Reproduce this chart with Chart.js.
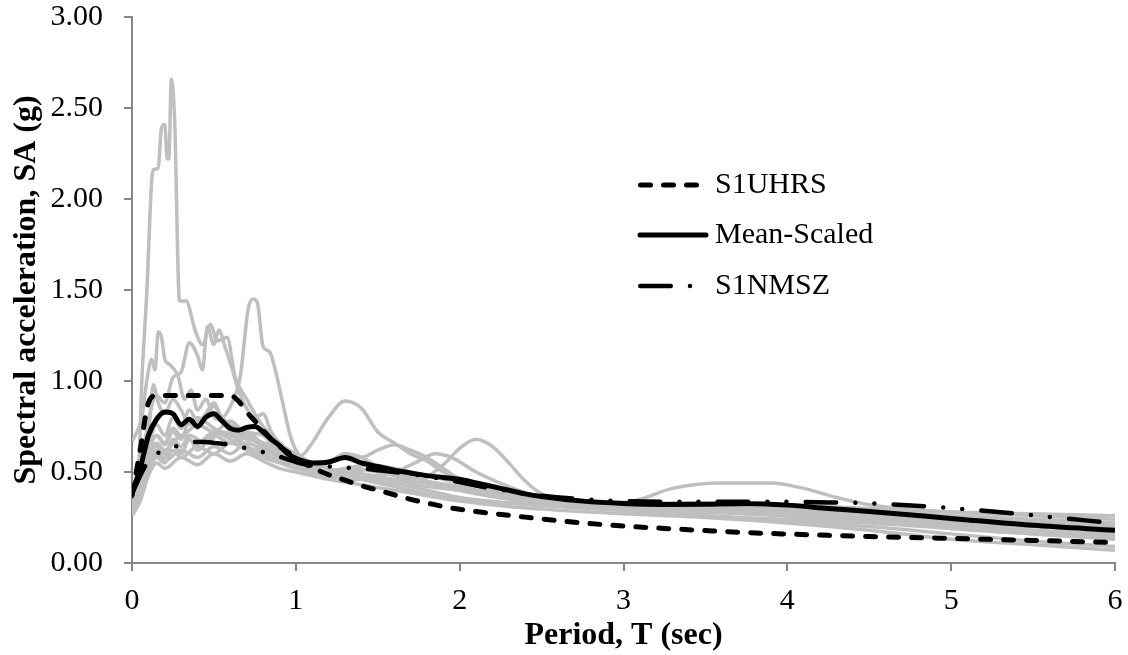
<!DOCTYPE html>
<html>
<head>
<meta charset="utf-8">
<title>Spectral acceleration</title>
<script src="https://cdn.jsdelivr.net/npm/chart.js@4.4.0/dist/chart.umd.min.js"></script>
<style>
  html, body { margin: 0; padding: 0; background: #fff; }
  #espectro { display: block; }
</style>
</head>
<body>
<canvas id="espectro" width="1128" height="655"></canvas>
<script>
// periodos (s) para los espectros objetivo
const periods = [0, 0.05, 0.1, 0.15, 0.2, 0.25, 0.3, 0.35, 0.4, 0.45, 0.5, 0.55, 0.6, 0.65, 0.7, 0.75, 0.8, 0.85, 0.9, 0.95,
  1.0, 1.1, 1.2, 1.3, 1.4, 1.5, 1.6, 1.7, 1.8, 1.9, 2.0, 2.1, 2.2, 2.3, 2.4, 2.5,
  2.75, 3.0, 3.25, 3.5, 3.75, 4.0, 4.25, 4.5, 5.0, 5.5, 6.0];

const s1uhrs = [0.37, 0.62, 0.88, 0.92, 0.92, 0.92, 0.92, 0.92, 0.92, 0.92, 0.92, 0.92, 0.92, 0.89, 0.83, 0.78, 0.73, 0.68, 0.64, 0.61,
  0.575, 0.525, 0.485, 0.455, 0.425, 0.40, 0.375, 0.35, 0.33, 0.31, 0.295, 0.283, 0.272, 0.262, 0.252, 0.242,
  0.22, 0.203, 0.19, 0.178, 0.167, 0.159, 0.152, 0.145, 0.135, 0.124, 0.113];

const meanScaled = [0.39, 0.52, 0.70, 0.79, 0.83, 0.82, 0.76, 0.79, 0.75, 0.80, 0.82, 0.78, 0.74, 0.73, 0.745, 0.75, 0.72, 0.68, 0.645, 0.60,
  0.575, 0.55, 0.555, 0.58, 0.55, 0.53, 0.51, 0.495, 0.48, 0.47, 0.46, 0.44, 0.42, 0.40, 0.38, 0.365,
  0.34, 0.327, 0.322, 0.323, 0.326, 0.318, 0.30, 0.283, 0.245, 0.207, 0.18];

const s1nmsz = [0.38, 0.48, 0.56, 0.60, 0.62, 0.635, 0.65, 0.66, 0.665, 0.665, 0.66, 0.655, 0.65, 0.64, 0.63, 0.62, 0.61, 0.60, 0.585, 0.57,
  0.555, 0.535, 0.53, 0.525, 0.52, 0.51, 0.50, 0.49, 0.475, 0.46, 0.445, 0.425, 0.41, 0.395, 0.38, 0.37,
  0.35, 0.34, 0.337, 0.337, 0.337, 0.336, 0.333, 0.328, 0.302, 0.262, 0.218];

// registros escalados [T, SA]
const rec01 = [[0,0.30],[0.04,0.5],[0.06,1.0],[0.09,1.48],[0.12,2.10],[0.13,2.16],[0.16,2.17],[0.18,2.39],[0.20,2.41],[0.215,2.22],[0.225,2.22],[0.24,2.66],[0.26,2.44],[0.29,1.44],[0.33,1.44],[0.385,1.28],[0.43,1.20],[0.48,1.31],[0.52,1.22],[0.58,1.24],[0.63,1.02],[0.7,0.90],[0.8,0.75],[0.9,0.66],[1.0,0.58],[1.1,0.52],[1.2,0.50],[1.4,0.47],[1.6,0.45],[1.8,0.42],[2.0,0.40],[2.3,0.37],[2.6,0.33],[3.0,0.29],[3.5,0.26],[4.0,0.24],[4.5,0.22],[5.0,0.19],[5.5,0.16],[6.0,0.14]];
const rec02 = [[0,0.28],[0.05,0.45],[0.1,0.62],[0.15,0.70],[0.2,0.65],[0.25,0.72],[0.3,0.68],[0.35,0.78],[0.4,0.74],[0.45,0.82],[0.5,0.88],[0.55,0.80],[0.6,0.86],[0.66,1.02],[0.71,1.40],[0.74,1.45],[0.765,1.43],[0.80,1.19],[0.84,1.16],[0.88,1.04],[0.92,0.88],[0.96,0.72],[1.0,0.62],[1.1,0.52],[1.2,0.47],[1.3,0.45],[1.45,0.47],[1.6,0.44],[1.8,0.40],[2.0,0.36],[2.3,0.33],[2.6,0.31],[3.0,0.29],[3.5,0.28],[4.0,0.27],[4.5,0.25],[5.0,0.22],[5.5,0.20],[6.0,0.18]];
const rec03 = [[0,0.67],[0.03,0.72],[0.06,0.80],[0.09,1.00],[0.12,1.12],[0.14,1.06],[0.16,1.27],[0.18,1.24],[0.20,1.12],[0.23,1.09],[0.28,1.03],[0.32,0.90],[0.36,0.95],[0.4,0.84],[0.45,0.90],[0.5,0.80],[0.55,0.78],[0.6,0.72],[0.7,0.70],[0.8,0.66],[0.9,0.62],[1.0,0.56],[1.1,0.52],[1.2,0.55],[1.3,0.60],[1.4,0.58],[1.5,0.53],[1.7,0.48],[1.9,0.42],[2.1,0.38],[2.3,0.35],[2.5,0.33],[3.0,0.30],[3.5,0.28],[4.0,0.26],[4.5,0.23],[5.0,0.20],[5.5,0.17],[6.0,0.15]];
const rec04 = [[0,0.32],[0.05,0.50],[0.1,0.78],[0.15,0.92],[0.2,0.88],[0.25,1.02],[0.3,1.05],[0.35,1.21],[0.4,1.14],[0.43,1.06],[0.46,1.30],[0.5,1.20],[0.53,1.28],[0.57,1.18],[0.6,1.10],[0.65,0.95],[0.7,0.85],[0.75,0.80],[0.8,0.82],[0.85,0.72],[0.9,0.66],[1.0,0.60],[1.1,0.55],[1.2,0.52],[1.3,0.50],[1.4,0.51],[1.5,0.52],[1.6,0.50],[1.8,0.45],[2.0,0.42],[2.2,0.38],[2.5,0.34],[3.0,0.30],[3.5,0.30],[4.0,0.30],[4.5,0.28],[5.0,0.26],[5.5,0.24],[6.0,0.22]];
const rec05 = [[0,0.30],[0.05,0.40],[0.1,0.55],[0.15,0.62],[0.2,0.58],[0.25,0.66],[0.3,0.60],[0.35,0.68],[0.4,0.62],[0.5,0.70],[0.6,0.66],[0.7,0.72],[0.8,0.65],[0.9,0.60],[1.0,0.58],[1.05,0.60],[1.1,0.66],[1.2,0.80],[1.3,0.89],[1.4,0.85],[1.5,0.72],[1.6,0.66],[1.7,0.60],[1.8,0.56],[1.9,0.50],[2.0,0.46],[2.2,0.40],[2.5,0.35],[3.0,0.31],[3.5,0.29],[4.0,0.27],[4.5,0.24],[5.0,0.21],[5.5,0.18],[6.0,0.16]];
const rec06 = [[0,0.28],[0.05,0.38],[0.1,0.50],[0.15,0.58],[0.2,0.55],[0.25,0.62],[0.3,0.58],[0.4,0.64],[0.5,0.60],[0.6,0.66],[0.7,0.62],[0.8,0.58],[0.9,0.55],[1.0,0.52],[1.2,0.48],[1.4,0.46],[1.6,0.44],[1.75,0.45],[1.9,0.54],[2.0,0.63],[2.1,0.68],[2.2,0.64],[2.3,0.55],[2.4,0.45],[2.5,0.38],[2.75,0.33],[3.0,0.31],[3.5,0.30],[4.0,0.29],[4.5,0.26],[5.0,0.23],[5.5,0.20],[6.0,0.18]];
const rec07 = [[0,0.33],[0.05,0.45],[0.1,0.60],[0.15,0.66],[0.2,0.62],[0.3,0.70],[0.4,0.66],[0.5,0.72],[0.6,0.68],[0.7,0.64],[0.8,0.60],[0.9,0.56],[1.0,0.54],[1.2,0.50],[1.4,0.46],[1.6,0.42],[1.8,0.38],[2.0,0.35],[2.3,0.33],[2.6,0.32],[2.9,0.31],[3.1,0.35],[3.3,0.41],[3.6,0.44],[3.9,0.44],[4.1,0.41],[4.3,0.36],[4.5,0.32],[5.0,0.28],[5.5,0.26],[6.0,0.24]];
const rec08 = [[0,0.27],[0.05,0.36],[0.1,0.52],[0.15,0.60],[0.2,0.56],[0.3,0.62],[0.4,0.58],[0.5,0.64],[0.6,0.60],[0.7,0.66],[0.8,0.62],[0.9,0.58],[1.0,0.55],[1.1,0.53],[1.2,0.55],[1.3,0.60],[1.4,0.58],[1.5,0.62],[1.6,0.65],[1.7,0.62],[1.8,0.58],[1.9,0.52],[2.0,0.46],[2.2,0.40],[2.4,0.36],[2.7,0.33],[3.0,0.30],[3.5,0.28],[4.0,0.26],[4.5,0.23],[5.0,0.19],[5.5,0.16],[6.0,0.13]];
const rec09 = [[0,0.35],[0.05,0.48],[0.1,0.62],[0.15,0.70],[0.2,0.66],[0.25,0.74],[0.3,0.70],[0.4,0.76],[0.5,0.72],[0.6,0.78],[0.7,0.70],[0.8,0.64],[0.9,0.58],[1.0,0.54],[1.1,0.50],[1.2,0.48],[1.4,0.47],[1.6,0.50],[1.75,0.56],[1.85,0.60],[1.95,0.58],[2.1,0.50],[2.3,0.42],[2.5,0.36],[2.75,0.32],[3.0,0.29],[3.5,0.26],[4.0,0.23],[4.5,0.20],[5.0,0.16],[5.5,0.12],[6.0,0.09]];
const rec10 = [[0,0.26],[0.05,0.34],[0.1,0.48],[0.15,0.55],[0.2,0.52],[0.3,0.58],[0.4,0.54],[0.5,0.60],[0.6,0.56],[0.7,0.60],[0.8,0.56],[0.9,0.52],[1.0,0.50],[1.2,0.46],[1.4,0.43],[1.6,0.40],[1.8,0.37],[2.0,0.34],[2.3,0.31],[2.6,0.29],[3.0,0.27],[3.5,0.25],[4.0,0.22],[4.5,0.18],[5.0,0.13],[5.5,0.10],[6.0,0.07]];
const rec11 = [[0,0.29],[0.05,0.42],[0.1,0.58],[0.15,0.64],[0.2,0.60],[0.25,0.68],[0.3,0.64],[0.35,0.70],[0.45,0.66],[0.55,0.72],[0.65,0.68],[0.75,0.62],[0.85,0.66],[0.95,0.58],[1.05,0.52],[1.15,0.50],[1.3,0.52],[1.45,0.54],[1.6,0.52],[1.8,0.48],[2.0,0.44],[2.25,0.40],[2.5,0.37],[2.8,0.34],[3.2,0.33],[3.6,0.33],[4.0,0.32],[4.5,0.30],[5.0,0.28],[5.5,0.27],[6.0,0.26]];
const rec12 = [[0,0.31],[0.05,0.44],[0.1,0.64],[0.15,0.76],[0.2,0.70],[0.25,0.80],[0.3,0.74],[0.35,0.84],[0.4,0.78],[0.5,0.86],[0.55,0.80],[0.6,0.76],[0.7,0.72],[0.8,0.70],[0.9,0.62],[1.0,0.57],[1.1,0.53],[1.2,0.50],[1.4,0.49],[1.6,0.46],[1.8,0.44],[2.0,0.41],[2.3,0.36],[2.6,0.33],[3.0,0.31],[3.5,0.30],[4.0,0.29],[4.5,0.27],[5.0,0.25],[5.5,0.23],[6.0,0.21]];
const rec13 = [[0,0.34],[0.05,0.52],[0.1,0.70],[0.13,0.98],[0.16,0.88],[0.2,0.82],[0.25,0.90],[0.3,0.84],[0.35,0.76],[0.4,0.80],[0.5,0.74],[0.6,0.70],[0.7,0.68],[0.8,0.66],[0.9,0.62],[1.0,0.55],[1.1,0.51],[1.2,0.50],[1.35,0.52],[1.5,0.50],[1.7,0.46],[1.9,0.43],[2.1,0.40],[2.4,0.36],[2.7,0.33],[3.0,0.31],[3.5,0.30],[4.0,0.28],[4.5,0.26],[5.0,0.24],[5.5,0.22],[6.0,0.20]];

const registros = [rec01, rec02, rec03, rec04, rec05, rec06, rec07, rec08, rec09, rec10, rec11, rec12, rec13];

const yTicks = [0, 0.5, 1.0, 1.5, 2.0, 2.5, 3.0];
const xTicks = [0, 1, 2, 3, 4, 5, 6];

// patrones de linea
const dashUHRS = [10, 13];
const dashNMSZ = [30.5, 19.25, 0, 19, 0, 19.25];

const fuente = "'Liberation Serif', 'Times New Roman', serif";
const gris = '#868686';

function comoPuntos(xs, ys) {
    return xs.map((t, i) => ({ x: t, y: ys[i] }));
}

let datasets = [
    {
        label: 'S1UHRS',
        data: comoPuntos(periods, s1uhrs),
        borderColor: '#000',
        borderWidth: 5,
        borderDash: dashUHRS,
        borderCapStyle: 'round'
    },
    {
        label: 'Mean-Scaled',
        data: comoPuntos(periods, meanScaled),
        borderColor: '#000',
        borderWidth: 5,
        borderJoinStyle: 'round'
    },
    {
        label: 'S1NMSZ',
        data: comoPuntos(periods, s1nmsz),
        borderColor: '#000',
        borderWidth: 4.5,
        borderDash: dashNMSZ,
        borderCapStyle: 'round'
    }
];

for (let r of registros) {
    datasets.push({
        label: '',
        data: r.map(p => ({ x: p[0], y: p[1] })),
        borderColor: '#BFBFBF',
        borderWidth: 3.5,
        borderJoinStyle: 'round'
    });
}

// leyenda dibujada dentro del area del grafico
const leyenda = {
    id: 'leyenda',
    afterDraw(chart) {
        const ctx = chart.ctx;
        const items = [
            { text: 'S1UHRS', dash: dashUHRS, x1: 640.5, x2: 700, y: 185, w: 5 },
            { text: 'Mean-Scaled', dash: [], x1: 640, x2: 706, y: 235, w: 5 },
            { text: 'S1NMSZ', dash: dashNMSZ, x1: 640.25, x2: 690.5, y: 286, w: 4.5 }
        ];
        ctx.save();
        for (let it of items) {
            ctx.beginPath();
            ctx.setLineDash(it.dash);
            ctx.lineCap = 'round';
            ctx.lineWidth = it.w;
            ctx.strokeStyle = '#000';
            ctx.moveTo(it.x1, it.y);
            ctx.lineTo(it.x2, it.y);
            ctx.stroke();
            ctx.setLineDash([]);
            ctx.fillStyle = '#000';
            ctx.font = '30px ' + fuente;
            ctx.textAlign = 'left';
            ctx.textBaseline = 'middle';
            ctx.fillText(it.text, 715, it.y);
        }
        ctx.restore();
    }
};

let ctx = document.getElementById('espectro').getContext('2d');
let grafica = new Chart(ctx, {
    type: 'line',
    data: { datasets: datasets },
    options: {
        responsive: false,
        animation: false,
        devicePixelRatio: 1,
        layout: { padding: 0 },
        elements: {
            point: { radius: 0 },
            line: { tension: 0, cubicInterpolationMode: 'monotone', fill: false }
        },
        plugins: {
            legend: { display: false },
            tooltip: { enabled: false }
        },
        scales: {
            x: {
                type: 'linear',
                min: 0,
                max: 6,
                afterFit: s => { s.height = 92; s.paddingRight = 13; },
                afterBuildTicks: s => { s.ticks = xTicks.map(v => ({ value: v })); },
                ticks: {
                    color: '#000',
                    font: { family: fuente, size: 30 },
                    padding: 12,
                    maxRotation: 0,
                    autoSkip: false,
                    callback: v => String(v)
                },
                grid: { display: true, drawOnChartArea: false, drawTicks: true, tickLength: 8, color: gris, lineWidth: 2 },
                border: { display: true, color: gris, width: 2 },
                title: {
                    display: true,
                    text: 'Period, T (sec)',
                    color: '#000',
                    font: { family: fuente, size: 32, weight: 'bold', lineHeight: 1.2 },
                    padding: { top: 0, bottom: 0 }
                }
            },
            y: {
                type: 'linear',
                min: 0,
                max: 3,
                afterFit: s => { s.width = 132; s.paddingTop = 17; },
                afterBuildTicks: s => { s.ticks = yTicks.map(v => ({ value: v })); },
                ticks: {
                    color: '#000',
                    font: { family: fuente, size: 30 },
                    padding: 21,
                    callback: v => v.toFixed(2)
                },
                grid: { display: true, drawOnChartArea: false, drawTicks: true, tickLength: 8, color: gris, lineWidth: 2 },
                border: { display: true, color: gris, width: 2 },
                title: {
                    display: true,
                    text: 'Spectral acceleration, SA (g)',
                    color: '#000',
                    font: { family: fuente, size: 32, weight: 'bold', lineHeight: 1.2 },
                    padding: { top: 8, bottom: 0 }
                }
            }
        }
    },
    plugins: [leyenda]
});
</script>
</body>
</html>
